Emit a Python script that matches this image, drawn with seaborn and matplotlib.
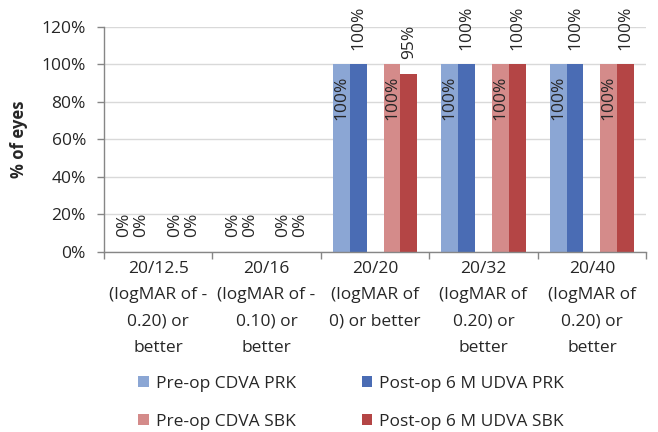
import numpy as np
import pandas as pd
import seaborn as sns
import matplotlib
matplotlib.use("Agg")
import matplotlib.pyplot as plt
from matplotlib.patches import Patch
from matplotlib.ticker import FixedLocator, PercentFormatter

# Visual acuity thresholds (cumulative)
categories = [
    "20/12.5\n(logMAR of -\n0.20) or\nbetter",
    "20/16\n(logMAR of -\n0.10) or\nbetter",
    "20/20\n(logMAR of\n0) or better",
    "20/32\n(logMAR of\n0.20) or\nbetter",
    "20/40\n(logMAR of\n0.20) or\nbetter",
]

# Percent of eyes reaching each threshold
pre_cdva_prk = [0, 0, 100, 100, 100]
post_udva_prk = [0, 0, 100, 100, 100]
pre_cdva_sbk = [0, 0, 100, 100, 100]
post_udva_sbk = [0, 0, 95, 100, 100]

series_names = ["Pre-op CDVA PRK", "Post-op 6 M UDVA PRK",
                "Pre-op CDVA SBK", "Post-op 6 M UDVA SBK"]
series_values = [pre_cdva_prk, post_udva_prk, pre_cdva_sbk, post_udva_sbk]
colors = ["#8BA6D4", "#4A6CB4", "#D48B8A", "#B44545"]

# An empty hue level keeps a gap between the PRK and SBK pairs
SPACER = " "
hue_order = series_names[:2] + [SPACER] + series_names[2:]

rows = []
for name, vals in zip(series_names, series_values):
    for cat, v in zip(categories, vals):
        rows.append({"category": cat, "series": name, "value": v})
for cat in categories:
    rows.append({"category": cat, "series": SPACER, "value": 0})
df = pd.DataFrame(rows)

palette = dict(zip(series_names, colors))
palette[SPACER] = "#FFFFFF"

sns.set_theme(style="white")
plt.rcParams["font.family"] = ["Open Sans", "DejaVu Sans"]
plt.rcParams["text.color"] = "#262626"

fig = plt.figure(figsize=(6.58, 4.32), dpi=100)
ax = fig.add_axes([0.158, 0.4167, 0.824, 0.5208])

sns.barplot(data=df, x="category", y="value", hue="series",
            hue_order=hue_order, order=categories, palette=palette,
            width=0.78, saturation=1, linewidth=0, errorbar=None,
            legend=False, ax=ax)

ax.set_ylim(0, 120)
ax.set_xlim(-0.5, len(categories) - 0.5)
ax.yaxis.set_major_locator(FixedLocator(np.arange(0, 121, 20)))
ax.yaxis.set_major_formatter(PercentFormatter(decimals=0))
ax.grid(axis="y", color="#D9D9D9", linewidth=1)
ax.set_axisbelow(True)

for side in ("top", "right"):
    ax.spines[side].set_visible(False)
for side in ("left", "bottom"):
    ax.spines[side].set_color("#868686")
    ax.spines[side].set_linewidth(1)

tick_fs = 12.5
ax.tick_params(axis="y", which="major", direction="out", length=5,
               width=1, color="#868686", pad=8, labelsize=tick_fs,
               left=True)
ax.set_xticks(range(len(categories)))
ax.set_xticklabels(categories, fontsize=tick_fs, linespacing=1.85)
ax.tick_params(axis="x", which="major", length=0, pad=6.5)
ax.set_xticks(np.arange(-0.5, len(categories)), minor=True)
ax.tick_params(axis="x", which="minor", direction="out", length=5,
               width=1, color="#868686", bottom=True)

ax.set_xlabel("")
ax.set_ylabel("% of eyes", fontsize=12, fontweight="bold", labelpad=10)

# Value labels: pre-op inside the bar end, post-op above the bar
label_fs = 12.5
for level, container in zip(hue_order, ax.containers):
    if level == SPACER:
        continue
    inside = level.startswith("Pre-op")
    for bar in container:
        h = bar.get_height()
        xc = bar.get_x() + bar.get_width() / 2
        txt = f"{h:.0f}%"
        if inside and h > 0:
            ax.annotate(txt, (xc, h), xytext=(0, -8),
                        textcoords="offset points", rotation=90,
                        ha="center", va="top", fontsize=label_fs,
                        annotation_clip=False)
        else:
            ax.annotate(txt, (xc, h), xytext=(0, 10.5),
                        textcoords="offset points", rotation=90,
                        ha="center", va="bottom", fontsize=label_fs,
                        annotation_clip=False)

# Legend filled column by column, so order entries to read row-wise
order = [0, 2, 1, 3]
handles = [Patch(facecolor=colors[i], edgecolor="none") for i in order]
labels = [series_names[i] for i in order]
fig.legend(handles, labels, loc="upper left",
           bbox_to_anchor=(0.21, 0.13), ncol=2, frameon=False,
           fontsize=12.5, handlelength=0.6, handleheight=0.6,
           handletextpad=0.4, columnspacing=3.8, labelspacing=1.25,
           borderaxespad=0, borderpad=0)

fig.savefig("out.png", dpi=100)
